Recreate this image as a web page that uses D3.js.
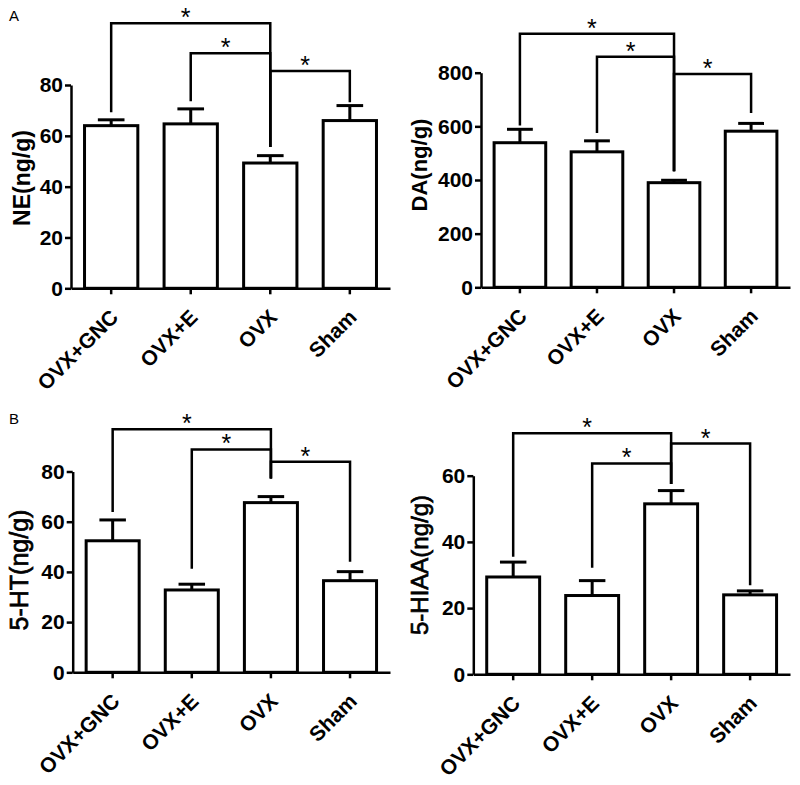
<!DOCTYPE html>
<html>
<head>
<meta charset="utf-8">
<script src="https://cdn.jsdelivr.net/npm/d3@7"></script>
<style>
  html, body { margin: 0; padding: 0; background: #fff; }
  svg { display: block; font-family: "Liberation Sans", Arial, sans-serif; }
</style>
</head>
<body>
<svg id="chart" width="800" height="785"></svg>
<script>
// ---------- data ----------
const categories = ["OVX+GNC", "OVX+E", "OVX", "Sham"];

const neMean = [64.0, 64.7, 49.3, 66.0];
const neSem  = [2.3, 5.9, 2.9, 5.9];
const neTicks = [0, 20, 40, 60, 80];
// brackets: [fromIndex, toIndex, level, fromLegEnd, toLegEnd]
const neBrackets = [[0, 2, 104.3, 69.8, 56.1], [1, 2, 92.5, 74.1, 56.1], [2, 3, 85.5, 56.1, 73.7]];

const daMean = [539, 505, 390, 582];
const daSem  = [50, 41, 9, 29];
const daTicks = [0, 200, 400, 600, 800];
const daBrackets = [[0, 2, 945, 608, 437], [1, 2, 859, 580, 437], [2, 3, 795, 437, 654]];

const htMean = [52.4, 32.8, 67.6, 36.5];
const htSem  = [8.3, 2.3, 2.4, 3.6];
const htTicks = [0, 20, 40, 60, 80];
const htBrackets = [[0, 2, 96.8, 64.4, 77.7], [1, 2, 88.8, 41.8, 77.7], [2, 3, 83.9, 77.7, 44.5]];

const hiaaMean = [29.4, 23.8, 51.5, 24.0];
const hiaaSem  = [4.5, 4.5, 4.0, 1.2];
const hiaaTicks = [0, 20, 40, 60];
const hiaaBrackets = [[0, 2, 72.8, 35.9, 57.9], [1, 2, 63.7, 32.6, 57.9], [2, 3, 69.7, 57.9, 27.3]];

const panelLetters = ["A", "B"];

// ---------- drawing ----------
const svg = d3.select("#chart");
svg.append("rect").attr("width", 800).attr("height", 785).attr("fill", "#fff");

function drawPanel(o) {
  const g = svg.append("g");
  const y = d3.scaleLinear().domain([0, d3.max(o.ticks)]).range([o.y0, o.yTop]);
  const x = d3.scaleBand().domain(categories).range([o.xLeft, o.xRight])
    .paddingInner(0.33).paddingOuter(0.17);

  // bars
  g.selectAll("rect.bar").data(o.mean).join("rect")
    .attr("class", "bar")
    .attr("x", (d, i) => x(categories[i]))
    .attr("y", d => y(d))
    .attr("width", x.bandwidth())
    .attr("height", d => y(0) - y(d))
    .attr("fill", "#fff").attr("stroke", "#000").attr("stroke-width", 3);

  // error bars (upper only)
  const cw = x.bandwidth() * 0.25;
  o.mean.forEach((m, i) => {
    const cx = x(categories[i]) + x.bandwidth() / 2;
    g.append("line").attr("x1", cx).attr("x2", cx)
      .attr("y1", y(m)).attr("y2", y(m + o.sem[i]))
      .attr("stroke", "#000").attr("stroke-width", 3);
    g.append("line").attr("x1", cx - cw).attr("x2", cx + cw)
      .attr("y1", y(m + o.sem[i])).attr("y2", y(m + o.sem[i]))
      .attr("stroke", "#000").attr("stroke-width", 3);
  });

  // axes
  const ya = g.append("g").attr("transform", `translate(${o.xLeft},0)`)
    .call(d3.axisLeft(y).tickValues(o.ticks).tickFormat(d3.format("d"))
      .tickSize(6).tickSizeOuter(0).tickPadding(2));
  ya.selectAll("path, line").attr("stroke", "#000").attr("stroke-width", 2.5);
  ya.selectAll("text").attr("font-size", 21).attr("font-weight", "bold")
    .attr("fill", "#000").attr("font-family", "Liberation Sans, Arial, sans-serif");

  const xa = g.append("g").attr("transform", `translate(0,${o.y0})`)
    .call(d3.axisBottom(x).tickSize(6).tickSizeOuter(0));
  xa.selectAll("path, line").attr("stroke", "#000").attr("stroke-width", 2.5);
  xa.selectAll("text")
    .attr("x", 0).attr("y", 0).attr("dy", "0.35em")
    .attr("text-anchor", "end")
    .attr("transform", "translate(3,25) rotate(-45)")
    .attr("font-size", 21).attr("font-weight", "bold").attr("fill", "#000")
    .attr("font-family", "Liberation Sans, Arial, sans-serif");

  // y label
  g.append("text")
    .attr("transform", `translate(${o.labelX},${o.labelY}) rotate(-90)`)
    .attr("text-anchor", "middle")
    .attr("font-size", o.labelSize).attr("font-weight", o.labelWeight)
    .attr("stroke", o.labelWeight === "normal" ? "#000" : "none")
    .attr("stroke-width", 0.7)
    .text(o.label);

  // significance brackets
  const cx = i => x(categories[i]) + x.bandwidth() / 2;
  o.brackets.forEach(b => {
    const [a, c, lvl, aEnd, cEnd] = b;
    const p = d3.path();
    p.moveTo(cx(a), y(aEnd));
    p.lineTo(cx(a), y(lvl));
    p.lineTo(cx(c), y(lvl));
    p.lineTo(cx(c), y(cEnd));
    g.append("path").attr("d", p.toString())
      .attr("fill", "none").attr("stroke", "#000").attr("stroke-width", 2.5)
      .attr("stroke-linejoin", "miter").attr("stroke-linecap", "square");
    g.append("text")
      .attr("x", (cx(a) + cx(c)) / 2 - 5)
      .attr("y", y(lvl) + 3)
      .attr("text-anchor", "middle")
      .attr("font-size", 25)
      .text("*");
  });
}

drawPanel({ mean: neMean, sem: neSem, ticks: neTicks, brackets: neBrackets,
  label: "NE(ng/g)", labelX: 30, labelY: 178, labelSize: 23, labelWeight: "bold",
  xLeft: 71, xRight: 390, y0: 288.3, yTop: 85 });
drawPanel({ mean: daMean, sem: daSem, ticks: daTicks, brackets: daBrackets,
  label: "DA(ng/g)", labelX: 427, labelY: 165, labelSize: 22, labelWeight: "bold",
  xLeft: 481, xRight: 790, y0: 287.3, yTop: 72.7 });
drawPanel({ mean: htMean, sem: htSem, ticks: htTicks, brackets: htBrackets,
  label: "5-HT(ng/g)", labelX: 28, labelY: 570, labelSize: 25, labelWeight: "normal",
  xLeft: 72.7, xRight: 390, y0: 672.3, yTop: 471.5 });
drawPanel({ mean: hiaaMean, sem: hiaaSem, ticks: hiaaTicks, brackets: hiaaBrackets,
  label: "5-HIAA(ng/g)", labelX: 428, labelY: 565, labelSize: 24, labelWeight: "normal",
  xLeft: 473.3, xRight: 790, y0: 674.3, yTop: 475.7 });

svg.selectAll("text.panel").data(panelLetters).join("text")
  .attr("class", "panel")
  .attr("x", 9)
  .attr("y", (d, i) => i === 0 ? 21 : 424)
  .attr("font-size", 15)
  .text(d => d);
</script>
</body>
</html>
